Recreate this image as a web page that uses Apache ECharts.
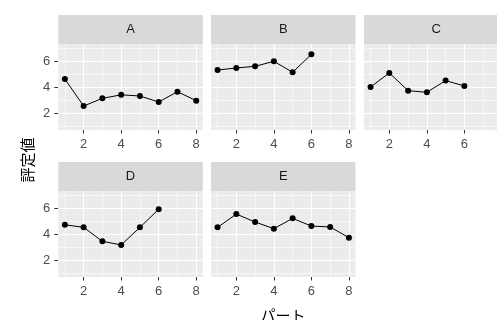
<!DOCTYPE html>
<html><head><meta charset="utf-8">
<script src="https://cdn.jsdelivr.net/npm/echarts@6/dist/echarts.min.js"></script>
<style>html,body{margin:0;padding:0;background:#fff}#c{width:497px;height:320px}</style>
</head><body><div id="c"></div>
<script>
// ---- data ----
const panelNames = ['A', 'B', 'C', 'D', 'E'];
const partsA = [1, 2, 3, 4, 5, 6, 7, 8];
const valuesA = [4.61, 2.54, 3.13, 3.40, 3.31, 2.85, 3.64, 2.95];
const partsB = [1, 2, 3, 4, 5, 6];
const valuesB = [5.30, 5.46, 5.59, 5.97, 5.13, 6.51];
const partsC = [1, 2, 3, 4, 5, 6];
const valuesC = [4.00, 5.08, 3.72, 3.59, 4.49, 4.08];
const partsD = [1, 2, 3, 4, 5, 6];
const valuesD = [4.71, 4.51, 3.44, 3.16, 4.51, 5.90];
const partsE = [1, 2, 3, 4, 5, 6, 7, 8];
const valuesE = [4.51, 5.53, 4.92, 4.41, 5.20, 4.61, 4.54, 3.72];
const xTickLabels = [2, 4, 6, 8];
const yTickLabels = [2, 4, 6];
const xMinorBreaks = [1, 3, 5, 7];
const yMinorBreaks = [1, 3, 5, 7];
const xTitle = 'パート';
const yTitle = '評定値';

// ---- layout / style ----
const xRange = [0.65, 8.35];
const yRange = [0.7, 7.3];
const panelW = 144.5, panelH = 86, stripH = 29;
const colLeft = [58.3, 211, 364];
const rowTop = [44, 191];
const layout = [
  {col: 0, row: 0, showY: true},
  {col: 1, row: 0, showY: false},
  {col: 2, row: 0, showY: false},
  {col: 0, row: 1, showY: true},
  {col: 1, row: 1, showY: false}
];
const allParts = [partsA, partsB, partsC, partsD, partsE];
const allValues = [valuesA, valuesB, valuesC, valuesD, valuesE];
const numFont = 'Liberation Sans, Arial, sans-serif';
const cjkFont = 'Noto Sans CJK JP, sans-serif';

const grids = [], xAxes = [], yAxes = [], series = [], graphics = [];
layout.forEach((p, i) => {
  const left = colLeft[p.col], top = rowTop[p.row];
  grids.push({left: left, top: top, width: panelW, height: panelH,
    outerBoundsMode: 'none',
    show: true, backgroundColor: '#EBEBEB', borderWidth: 0, containLabel: false});
  xAxes.push({type: 'value', gridIndex: i, min: xRange[0], max: xRange[1],
    axisLine: {show: false},
    axisTick: {show: true, customValues: xTickLabels, length: 3.5, lineStyle: {color: '#333333', width: 1}},
    axisLabel: {show: true, customValues: xTickLabels, margin: 8, color: '#4D4D4D', fontSize: 13, fontFamily: numFont},
    splitLine: {show: false}});
  yAxes.push({type: 'value', gridIndex: i, min: yRange[0], max: yRange[1],
    axisLine: {show: false},
    axisTick: {show: p.showY, customValues: yTickLabels, length: 4, lineStyle: {color: '#333333', width: 1}},
    axisLabel: {show: p.showY, customValues: yTickLabels, margin: 8, color: '#4D4D4D', fontSize: 13, fontFamily: numFont},
    splitLine: {show: false}});
  const major = {color: '#FFFFFF', width: 1.1, type: 'solid'};
  const minor = {color: '#FFFFFF', width: 0.55, type: 'solid'};
  const ml = [];
  yMinorBreaks.forEach(v => ml.push({yAxis: v, lineStyle: minor}));
  xMinorBreaks.forEach(v => ml.push({xAxis: v, lineStyle: minor}));
  yTickLabels.forEach(v => ml.push({yAxis: v, lineStyle: major}));
  xTickLabels.forEach(v => ml.push({xAxis: v, lineStyle: major}));
  series.push({type: 'line', xAxisIndex: i, yAxisIndex: i, z: 3,
    data: allParts[i].map((x, k) => [x, allValues[i][k]]),
    symbol: 'circle', symbolSize: 6, showSymbol: true,
    itemStyle: {color: '#000000'}, lineStyle: {color: '#000000', width: 1},
    markLine: {silent: true, symbol: 'none', z: 1, animation: false,
      label: {show: false}, emphasis: {disabled: true}, data: ml}});
  graphics.push({type: 'rect', left: left, top: top - stripH, z: 0,
    shape: {width: panelW, height: stripH}, style: {fill: '#D9D9D9'}});
  graphics.push({type: 'text', x: left + panelW / 2, y: top - stripH / 2, z: 1,
    style: {text: panelNames[i], fill: '#1A1A1A', font: '13px ' + numFont,
      textAlign: 'center', textVerticalAlign: 'middle'}});
});
graphics.push({type: 'text', x: 283, y: 315, style: {text: xTitle, fill: '#000',
  font: '15px ' + cjkFont, textAlign: 'center', textVerticalAlign: 'middle'}});
graphics.push({type: 'text', x: 27, y: 160, rotation: Math.PI / 2, style: {text: yTitle, fill: '#000',
  font: '15px ' + cjkFont, textAlign: 'center', textVerticalAlign: 'middle'}});

const chart = echarts.init(document.getElementById('c'), null, {renderer: 'canvas'});
chart.setOption({
  animation: false,
  backgroundColor: '#FFFFFF',
  grid: grids, xAxis: xAxes, yAxis: yAxes, series: series, graphic: graphics
});
</script></body></html>
